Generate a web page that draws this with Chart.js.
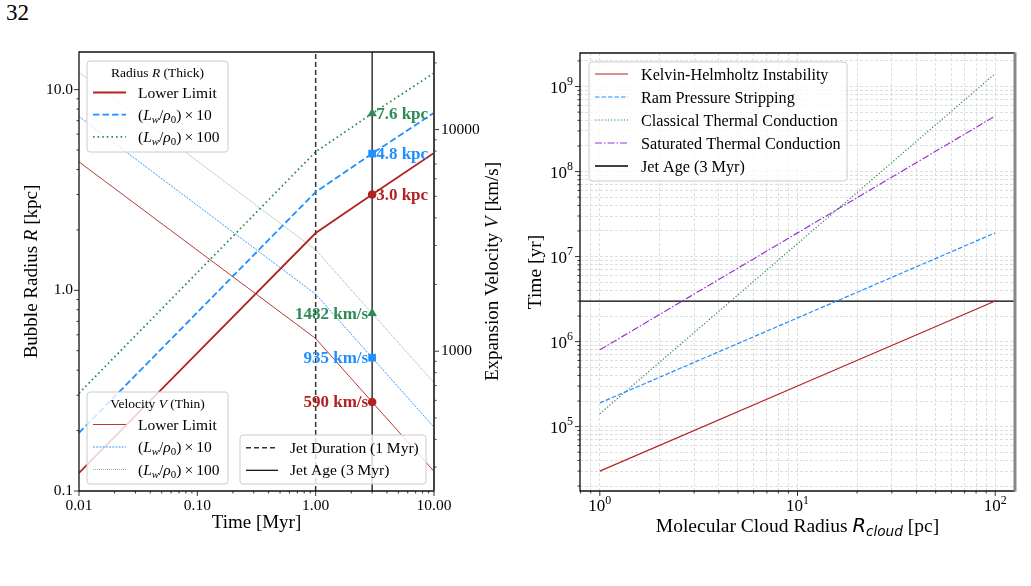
<!DOCTYPE html>
<html>
<head>
<meta charset="utf-8">
<script src="https://cdn.jsdelivr.net/npm/chart.js@4.4.0/dist/chart.umd.min.js"></script>
<style>
  body { margin: 0; background: #fff; width: 1031px; height: 586px; overflow: hidden; position: relative; font-family: "Liberation Serif", serif; }
  #pg { position: absolute; left: 6px; top: 1px; font-size: 23px; line-height: 23px; }
  #wrapL { position: absolute; left: 0; top: 0; }
  #wrapR { position: absolute; left: 515px; top: 0; }
</style>
</head>
<body>
<div id="pg">32</div>
<div id="wrapL"><canvas id="left" width="515" height="586"></canvas></div>
<div id="wrapR"><canvas id="right" width="516" height="586"></canvas></div>
<script>
// ---- left panel: bubble radius (thick) and expansion velocity (thin) vs time
const timeMyr = [0.01, 1, 3, 10];
const radiusLower = [0.123, 1.93, 3.0, 4.84];
const radiusX10 = [0.195, 3.09, 4.8, 7.66];
const radiusX100 = [0.307, 4.90, 7.6, 12.1];
const velLower = [7150, 1141, 590, 287];
const velX10 = [11450, 1808, 935, 454];
const velX100 = [18150, 2866, 1482, 720];
const jetDuration = 1;
const jetAge = 3;
const markerR = [3.0, 4.8, 7.6];
const markerV = [590, 935, 1482];
const tickTime = [0.01, 0.1, 1, 10];
const tickRadius = [0.1, 1, 10];
const tickVel = [1000, 10000];

// ---- right panel: timescales vs molecular cloud radius
const cloudRadius = [1, 10, 100];
const tKH = [3.0e4, 3.0e5, 3.0e6];
const tRam = [1.9e5, 1.9e6, 1.9e7];
const tClassical = [1.42e5, 1.42e7, 1.42e9];
const tSaturated = [8.0e5, 1.9e7, 4.5e8];
const jetAgeYr = 3e6;
const seriesNames = ['Kelvin-Helmholtz Instability', 'Ram Pressure Stripping', 'Classical Thermal Conduction', 'Saturated Thermal Conduction', 'Jet Age (3 Myr)'];
const tickCloud = [1, 10, 100];
const tickYr = [1e5, 1e6, 1e7, 1e8, 1e9];

// axis limits
const xLimL = [0.01, 10], rLim = [0.1, 15.4], vLim = [234, 22400];
const xLimR = [0.794, 125.9], yLimR = [17500, 2.48e9];

const RED = '#b22222', BLUE = '#1e90ff', GREEN = '#2e8b57', PURPLE = '#9b30d9';
const serif = '"Liberation Serif", "Times New Roman", serif';
const sans = '"DejaVu Sans", sans-serif';
Chart.defaults.font.family = serif;
Chart.defaults.color = '#000';

const ST = {
  rLower: { color: RED, width: 1.8 },
  rX10: { color: BLUE, width: 1.8, dash: [6.5, 3] },
  rX100: { color: GREEN, width: 1.8, dash: [1.6, 3] },
  vLower: { color: RED, width: 0.9 },
  vX10: { color: BLUE, width: 0.9, dash: [2, 1.2] },
  vX100: { color: GREEN, width: 0.6, dash: [1, 1] },
  dur: { color: '#333', width: 1.5, dash: [5, 3] },
  age: { color: '#000', width: 1.2 },
  kh: { color: RED, width: 1.2 },
  ram: { color: BLUE, width: 1.2, dash: [4.5, 2] },
  cla: { color: GREEN, width: 1.2, dash: [1.2, 2] },
  sat: { color: PURPLE, width: 1.2, dash: [7, 2, 1.5, 2] },
  ageR: { color: '#000', width: 1.3 }
};

function xy(xs, ys) { return xs.map((x, i) => ({ x: x, y: ys[i] })); }
function sty(s) {
  return { borderColor: s.color, borderWidth: s.width, borderDash: s.dash || [], pointRadius: 0, fill: false, tension: 0 };
}
function marker(y, axis, shape, r, col) {
  return { data: [{ x: jetAge, y: y }], yAxisID: axis, showLine: false, pointStyle: shape, pointRadius: r,
    pointBackgroundColor: col, pointBorderColor: col, pointBorderWidth: 0 };
}

// minor + major log ticks built from the major tick list
function logTicks(majors, min, max) {
  const out = [];
  [majors[0] / 10].concat(majors).forEach((m, j) => {
    for (let k = 1; k <= 9; k++) {
      const v = +(k * m).toPrecision(6);
      if (v >= min * 0.9999 && v <= max * 1.0001) out.push({ value: v, major: k === 1 && j > 0 });
    }
  });
  return out;
}
function labelFor(majors, digits) {
  return v => {
    const m = majors.find(t => Math.abs(t - v) / t < 1e-6);
    return m === undefined ? '' : (digits < 0 ? String(m) : m.toFixed(digits));
  };
}

function segFont(s, size) {
  const sz = (s.sub || s.sup) ? size * 0.7 : size;
  return (s.it ? 'italic ' : '') + (s.b ? 'bold ' : '') + sz + 'px ' + (s.fam || serif);
}
function drawRich(ctx, segs, x, y, size, align) {
  ctx.textAlign = 'left';
  ctx.textBaseline = 'alphabetic';
  let w = 0;
  segs.forEach(s => { ctx.font = segFont(s, size); w += ctx.measureText(s.t).width; });
  let cx = align === 'center' ? x - w / 2 : (align === 'right' ? x - w : x);
  segs.forEach(s => {
    ctx.font = segFont(s, size);
    const dy = s.sub ? size * 0.22 : (s.sup ? -size * 0.42 : 0);
    ctx.fillText(s.t, cx, y + dy);
    cx += ctx.measureText(s.t).width;
  });
}
function drawRotated(ctx, segs, x, y, size) {
  ctx.save();
  ctx.translate(x, y);
  ctx.rotate(-Math.PI / 2);
  drawRich(ctx, segs, 0, size * 0.32, size, 'center');
  ctx.restore();
}
function box(ctx, x, y, w, h) {
  const r = 3;
  ctx.beginPath();
  ctx.moveTo(x + r, y);
  ctx.arcTo(x + w, y, x + w, y + h, r);
  ctx.arcTo(x + w, y + h, x, y + h, r);
  ctx.arcTo(x, y + h, x, y, r);
  ctx.arcTo(x, y, x + w, y, r);
  ctx.closePath();
  ctx.fillStyle = 'rgba(255,255,255,0.8)';
  ctx.fill();
  ctx.strokeStyle = '#cccccc';
  ctx.lineWidth = 1;
  ctx.stroke();
  ctx.fillStyle = '#000';
}
function sample(ctx, x0, x1, y, s) {
  ctx.save();
  ctx.strokeStyle = s.color;
  ctx.lineWidth = s.width;
  ctx.setLineDash(s.dash || []);
  ctx.beginPath();
  ctx.moveTo(x0, y);
  ctx.lineTo(x1, y);
  ctx.stroke();
  ctx.restore();
}
function tickMarks(ctx, scale, side, a) {
  ctx.strokeStyle = '#000';
  ctx.lineWidth = 0.8;
  ctx.setLineDash([]);
  scale.ticks.forEach(t => {
    const p = scale.getPixelForValue(t.value);
    const len = t.major ? 5 : 2.5;
    ctx.beginPath();
    if (side === 'bottom') { ctx.moveTo(p, a.bottom); ctx.lineTo(p, a.bottom + len); }
    if (side === 'left') { ctx.moveTo(a.left, p); ctx.lineTo(a.left - len, p); }
    if (side === 'right') { ctx.moveTo(a.right, p); ctx.lineTo(a.right + len, p); }
    ctx.stroke();
  });
}
function frame(ctx, a, rightCol, rightW) {
  ctx.setLineDash([]);
  ctx.strokeStyle = '#111';
  ctx.lineWidth = 1.3;
  ctx.beginPath();
  ctx.moveTo(a.right, a.top); ctx.lineTo(a.left, a.top); ctx.lineTo(a.left, a.bottom); ctx.lineTo(a.right, a.bottom);
  ctx.stroke();
  ctx.strokeStyle = rightCol;
  ctx.lineWidth = rightW;
  ctx.beginPath();
  ctx.moveTo(a.right, a.top - 0.6); ctx.lineTo(a.right, a.bottom + 0.6);
  ctx.stroke();
}

const lw = n => [{ t: '(' }, { t: 'L', it: 1 }, { t: 'w', it: 1, sub: 1 }, { t: '/' }, { t: 'ρ', it: 1 }, { t: '0', sub: 1 }, { t: ')\u2009×\u2009' + n }];

const leftDecor = {
  id: 'leftDecor',
  afterDraw(chart) {
    const { ctx, chartArea: a, scales } = chart;
    ctx.save();
    tickMarks(ctx, scales.x, 'bottom', a);
    tickMarks(ctx, scales.yR, 'left', a);
    tickMarks(ctx, scales.yV, 'right', a);
    frame(ctx, a, '#444', 2);

    // value annotations at the jet age
    const cols = [RED, BLUE, GREEN];
    const px = scales.x.getPixelForValue(jetAge);
    ctx.font = 'bold 17px ' + serif;
    ctx.textBaseline = 'middle';
    markerR.forEach((r, i) => {
      ctx.fillStyle = cols[i];
      ctx.textAlign = 'left';
      ctx.fillText(r.toFixed(1) + ' kpc', px + 4, scales.yR.getPixelForValue(r) + 1);
    });
    markerV.forEach((v, i) => {
      ctx.fillStyle = cols[i];
      ctx.textAlign = 'right';
      ctx.fillText(v + ' km/s', px - 4, scales.yV.getPixelForValue(v) + 1);
    });

    // legend: radius
    box(ctx, 87, 61, 141, 91);
    drawRich(ctx, [{ t: 'Radius ' }, { t: 'R', it: 1 }, { t: ' (Thick)' }], 157.5, 76.5, 13.5, 'center');
    [[ST.rLower, [{ t: 'Lower Limit' }]], [ST.rX10, lw(10)], [ST.rX100, lw(100)]].forEach((e, i) => {
      const y = 92.5 + i * 22.2;
      sample(ctx, 93, 126, y, e[0]);
      ctx.fillStyle = '#000';
      drawRich(ctx, e[1], 138, y + 5, 15.5, 'left');
    });
    // legend: velocity
    box(ctx, 87, 392, 141, 92);
    drawRich(ctx, [{ t: 'Velocity ' }, { t: 'V', it: 1 }, { t: ' (Thin)' }], 157.5, 407.5, 13.5, 'center');
    [[ST.vLower, [{ t: 'Lower Limit' }]], [ST.vX10, lw(10)], [ST.vX100, lw(100)]].forEach((e, i) => {
      const y = 424.5 + i * 22.5;
      sample(ctx, 93, 126, y, e[0]);
      ctx.fillStyle = '#000';
      drawRich(ctx, e[1], 138, y + 5, 15.5, 'left');
    });
    // legend: jet lines
    box(ctx, 240, 435, 186, 49);
    [[ST.dur, 'Jet Duration (1 Myr)'], [ST.age, 'Jet Age (3 Myr)']].forEach((e, i) => {
      const y = 447.8 + i * 22.5;
      sample(ctx, 246, 278, y, e[0]);
      ctx.fillStyle = '#000';
      drawRich(ctx, [{ t: e[1] }], 290, y + 5, 15.5, 'left');
    });

    // axis titles
    ctx.fillStyle = '#000';
    drawRich(ctx, [{ t: 'Time [Myr]' }], (a.left + a.right) / 2, 528, 19, 'center');
    drawRotated(ctx, [{ t: 'Bubble Radius ' }, { t: 'R', it: 1 }, { t: ' [kpc]' }], 31, (a.top + a.bottom) / 2, 19);
    drawRotated(ctx, [{ t: 'Expansion Velocity ' }, { t: 'V', it: 1 }, { t: ' [km/s]' }], 492, (a.top + a.bottom) / 2, 19);
    ctx.restore();
  }
};

new Chart(document.getElementById('left'), {
  type: 'line',
  data: {
    datasets: [
      marker(markerR[0], 'yR', 'circle', 4.3, RED),
      marker(markerR[1], 'yR', 'rect', 5.4, BLUE),
      marker(markerR[2], 'yR', 'triangle', 5.5, GREEN),
      marker(markerV[0], 'yV', 'circle', 4.3, RED),
      marker(markerV[1], 'yV', 'rect', 5.4, BLUE),
      marker(markerV[2], 'yV', 'triangle', 5.5, GREEN),
      Object.assign({ data: xy(timeMyr, radiusLower), yAxisID: 'yR' }, sty(ST.rLower)),
      Object.assign({ data: xy(timeMyr, radiusX10), yAxisID: 'yR' }, sty(ST.rX10)),
      Object.assign({ data: xy(timeMyr, radiusX100), yAxisID: 'yR' }, sty(ST.rX100)),
      Object.assign({ data: xy(timeMyr, velLower), yAxisID: 'yV' }, sty(ST.vLower)),
      Object.assign({ data: xy(timeMyr, velX10), yAxisID: 'yV' }, sty(ST.vX10)),
      Object.assign({ data: xy(timeMyr, velX100), yAxisID: 'yV' }, sty(ST.vX100)),
      Object.assign({ data: xy([jetDuration, jetDuration], rLim), yAxisID: 'yR' }, sty(ST.dur)),
      Object.assign({ data: xy([jetAge, jetAge], rLim), yAxisID: 'yR' }, sty(ST.age))
    ]
  },
  options: {
    responsive: false,
    devicePixelRatio: 1,
    animation: false,
    events: [],
    layout: { padding: { top: 52, left: 0, right: 0, bottom: 0 } },
    plugins: { legend: { display: false }, tooltip: { enabled: false } },
    scales: {
      x: {
        type: 'logarithmic', position: 'bottom', min: xLimL[0], max: xLimL[1],
        grid: { display: false, drawTicks: false }, border: { display: false },
        ticks: { autoSkip: false, maxRotation: 0, padding: 6, font: { size: 15.5 }, callback: labelFor(tickTime, 2) },
        afterBuildTicks: s => { s.ticks = logTicks(tickTime, xLimL[0], xLimL[1]); },
        afterFit: s => { s.height = 95; }
      },
      yR: {
        type: 'logarithmic', position: 'left', min: rLim[0], max: rLim[1],
        grid: { display: false, drawTicks: false }, border: { display: false },
        ticks: { autoSkip: false, padding: 6, font: { size: 15.5 }, callback: labelFor(tickRadius, 1) },
        afterBuildTicks: s => { s.ticks = logTicks(tickRadius, rLim[0], rLim[1]); },
        afterFit: s => { s.width = 79; }
      },
      yV: {
        type: 'logarithmic', position: 'right', min: vLim[0], max: vLim[1],
        grid: { display: false, drawTicks: false }, border: { display: false },
        ticks: { autoSkip: false, padding: 7, font: { size: 15.5 }, callback: labelFor(tickVel, -1) },
        afterBuildTicks: s => { s.ticks = logTicks(tickVel, vLim[0], vLim[1]); },
        afterFit: s => { s.width = 81; }
      }
    }
  },
  plugins: [leftDecor]
});

// ---- right panel
function supLabel(ctx, v, x, y, align) {
  drawRich(ctx, [{ t: '10' }, { t: String(Math.round(Math.log10(v))), sup: 1 }], x, y, 17, align);
}

const rightDecor = {
  id: 'rightDecor',
  afterDraw(chart) {
    const { ctx, chartArea: a, scales } = chart;
    ctx.save();
    tickMarks(ctx, scales.x, 'bottom', a);
    tickMarks(ctx, scales.y, 'left', a);
    frame(ctx, a, '#888', 3);

    ctx.fillStyle = '#000';
    tickCloud.forEach(v => supLabel(ctx, v, scales.x.getPixelForValue(v), 511, 'center'));
    tickYr.forEach(v => supLabel(ctx, v, a.left - 7, scales.y.getPixelForValue(v) + 6, 'right'));

    // legend
    const styles = [ST.kh, ST.ram, ST.cla, ST.sat, ST.ageR];
    box(ctx, 74, 62, 258, 119);
    seriesNames.forEach((name, i) => {
      const y = 74 + i * 23;
      sample(ctx, 80, 113, y, styles[i]);
      ctx.fillStyle = '#000';
      drawRich(ctx, [{ t: name }], 126, y + 5.5, 16.2, 'left');
    });

    // axis titles
    ctx.fillStyle = '#000';
    drawRich(ctx, [{ t: 'Molecular Cloud Radius ' }, { t: 'R', it: 1, fam: sans }, { t: 'cloud', it: 1, sub: 1, fam: sans }, { t: ' [pc]' }],
      (a.left + a.right) / 2, 532, 19.5, 'center');
    drawRotated(ctx, [{ t: 'Time [yr]' }], 20, (a.top + a.bottom) / 2, 19.5);
    ctx.restore();
  }
};

const gridR = { display: true, drawTicks: false, color: '#d6d6d6', lineWidth: 0.8 };

new Chart(document.getElementById('right'), {
  type: 'line',
  data: {
    datasets: [
      Object.assign({ label: seriesNames[0], data: xy(cloudRadius, tKH) }, sty(ST.kh)),
      Object.assign({ label: seriesNames[1], data: xy(cloudRadius, tRam) }, sty(ST.ram)),
      Object.assign({ label: seriesNames[2], data: xy(cloudRadius, tClassical) }, sty(ST.cla)),
      Object.assign({ label: seriesNames[3], data: xy(cloudRadius, tSaturated) }, sty(ST.sat)),
      Object.assign({ label: seriesNames[4], data: xy(xLimR, [jetAgeYr, jetAgeYr]) }, sty(ST.ageR))
    ]
  },
  options: {
    responsive: false,
    devicePixelRatio: 1,
    animation: false,
    events: [],
    layout: { padding: { top: 53, left: 0, right: 16, bottom: 0 } },
    plugins: { legend: { display: false }, tooltip: { enabled: false } },
    scales: {
      x: {
        type: 'logarithmic', position: 'bottom', min: xLimR[0], max: xLimR[1],
        grid: gridR, border: { display: false, dash: [3, 2] },
        ticks: { display: false, autoSkip: false },
        afterBuildTicks: s => { s.ticks = logTicks(tickCloud, xLimR[0], xLimR[1]); },
        afterFit: s => { s.height = 95; }
      },
      y: {
        type: 'logarithmic', position: 'left', min: yLimR[0], max: yLimR[1],
        grid: gridR, border: { display: false, dash: [3, 2] },
        ticks: { display: false, autoSkip: false },
        afterBuildTicks: s => { s.ticks = logTicks(tickYr, yLimR[0], yLimR[1]); },
        afterFit: s => { s.width = 65; }
      }
    }
  },
  plugins: [rightDecor]
});
</script>
</body>
</html>
